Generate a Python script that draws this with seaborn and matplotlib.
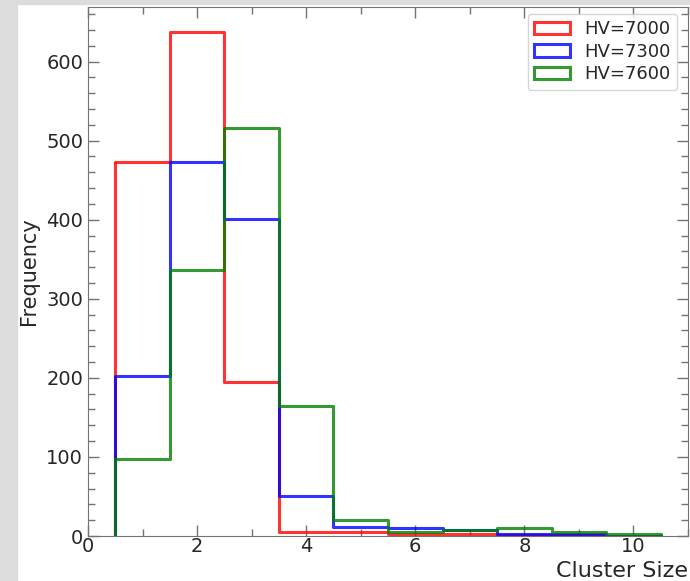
import numpy as np
import pandas as pd
import matplotlib
matplotlib.use("Agg")
import matplotlib.pyplot as plt
from matplotlib.patches import Patch, Rectangle
from matplotlib.ticker import MultipleLocator
import seaborn as sns

# cluster sizes 1..10 and counts
cluster_size = [1, 2, 3, 4, 5, 6, 7, 8, 9, 10]
hv_7000 = [473, 637, 195, 5, 5, 3, 3, 1, 1, 0]
hv_7300 = [202, 473, 401, 50, 12, 10, 7, 2, 2, 0]
hv_7600 = [98, 336, 516, 164, 20, 5, 7, 10, 5, 2]
labels = ["HV=7000", "HV=7300", "HV=7600"]
colors = ["red", "blue", "green"]

sns.set_style("ticks")
plt.rcParams['font.family'] = ['DejaVu Sans']

fig = plt.figure(figsize=(6.9, 5.81), dpi=100)
# grey strip of the screenshot border
fig.patches.append(Rectangle((0, 0), 17 / 690, 1, transform=fig.transFigure,
                             color="#dcdcdc", zorder=-1))
fig.patches.append(Rectangle((0, 1 - 4 / 581), 1, 4 / 581, transform=fig.transFigure,
                             color="#dcdcdc", zorder=-1))
ax = fig.add_axes([88 / 690, 1 - 536 / 581, 600 / 690, 529 / 581])

edges = [min(cluster_size) - 0.5, max(cluster_size) + 0.5]
handles = []
for counts, lab, col in zip([hv_7000, hv_7300, hv_7600], labels, colors):
    df = pd.DataFrame({"size": cluster_size, "count": counts})
    sns.histplot(data=df, x="size", weights="count", binwidth=1, binrange=edges,
                 element="step", fill=False, color=col, alpha=0.8, linewidth=2.2, ax=ax)
    # close the outline at both ends like a step histogram
    ax.vlines(edges, 0, [counts[0], counts[-1]],
              color=col, alpha=0.8, linewidth=2.2)
    handles.append(Patch(facecolor="none", edgecolor=col, alpha=0.8,
                         linewidth=2.2, label=lab))

ax.set_xlim(0, 11)
ax.set_ylim(0, 669)
ax.xaxis.set_major_locator(MultipleLocator(2))
ax.xaxis.set_minor_locator(MultipleLocator(1))
ax.yaxis.set_major_locator(MultipleLocator(100))
ax.yaxis.set_minor_locator(MultipleLocator(20))
ax.tick_params(which="both", direction="in", top=True, right=True, color="0.45")
ax.tick_params(which="major", length=8, width=1, labelsize=14)
ax.tick_params(which="minor", length=5, width=1)
ax.tick_params(axis="x", which="major", pad=1)
for sp in ax.spines.values():
    sp.set_color("0.45")

ax.set_xlabel("Cluster Size", fontsize=16, loc="right", labelpad=3)
ax.set_ylabel("Frequency", fontsize=15, labelpad=5)
ax.legend(handles=handles, loc="upper right", fontsize=13, frameon=True,
          bbox_to_anchor=(0.982, 0.987), borderaxespad=0,
          labelspacing=0.25, borderpad=0.35)

fig.savefig("out.png", dpi=100)
